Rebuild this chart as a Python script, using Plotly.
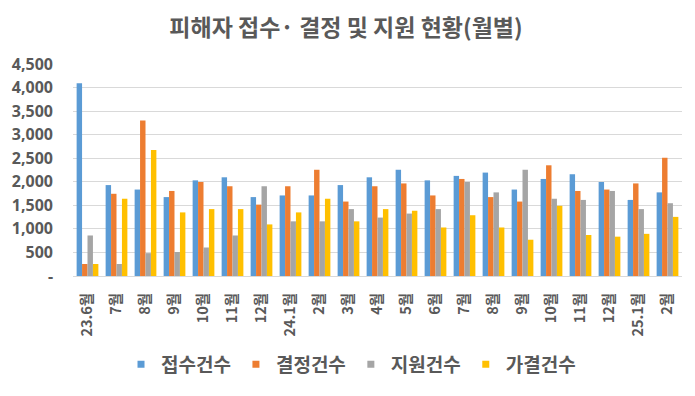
import plotly.graph_objects as go

categories = ["23.6월", "7월", "8월", "9월", "10월", "11월", "12월", "24.1월", "2월", "3월", "4월",
              "5월", "6월", "7월", "8월", "9월", "10월", "11월", "12월", "25.1월", "2월"]
cat_ids = [f"c{i}" for i in range(len(categories))]

received = [4090, 1930, 1835, 1675, 2030, 2095, 1675, 1710, 1710, 1930, 2095,
            2255, 2030, 2125, 2195, 1835, 2060, 2160, 1995, 1615, 1775]
decided = [255, 1745, 3300, 1805, 1995, 1905, 1515, 1905, 2255, 1580, 1905,
           1965, 1710, 2060, 1675, 1580, 2350, 1805, 1835, 1965, 2510]
supported = [860, 255, 485, 510, 605, 860, 1905, 1160, 1160, 1420, 1240,
             1325, 1420, 1995, 1775, 2255, 1640, 1615, 1805, 1420, 1545]
provisional = [255, 1640, 2675, 1350, 1420, 1420, 1095, 1350, 1640, 1160, 1420,
               1385, 1030, 1290, 1030, 770, 1490, 870, 835, 895, 1255]

series_names = ["접수건수", "결정건수", "지원건수", "가결건수"]
series_values = [received, decided, supported, provisional]
series_colors = ["#5B9BD5", "#ED7D31", "#A5A5A5", "#FFC000"]

y_tickvals = [0, 500, 1000, 1500, 2000, 2500, 3000, 3500, 4000, 4500]
y_ticktext = ["-", "500", "1,000", "1,500", "2,000", "2,500", "3,000", "3,500", "4,000", "4,500"]

fig = go.Figure()
for name, vals, col in zip(series_names, series_values, series_colors):
    fig.add_trace(go.Bar(x=cat_ids, y=vals, name=name, marker_color=col,
                         marker_line_width=0, showlegend=False, legendgroup=name))
# small square legend keys
for name, col in zip(series_names, series_colors):
    fig.add_trace(go.Scatter(x=[None], y=[None], mode="markers", name=name,
                             legendgroup=name,
                             marker=dict(symbol="square", size=7, color=col)))

# page body has an 8px default margin, so the figure is laid out 8px smaller
fig.update_layout(
    width=687, height=388,
    margin=dict(l=65, r=13, t=56, b=114),
    paper_bgcolor="white", plot_bgcolor="white",
    barmode="group", bargap=0.25, bargroupgap=0,
    font=dict(family="Noto Sans CJK KR", color="#595959"),
    title=dict(text="피해자 접수· 결정 및 지원 현황(월별)", x=0.492, xanchor="center",
               y=0.949, yanchor="middle",
               font=dict(size=23, color="#595959", family="Noto Sans CJK KR", weight="bold")),
    showlegend=True,
    legend=dict(orientation="h", x=0.4565, xanchor="center",
                y=-0.417, yanchor="middle",
                font=dict(size=19, color="#595959", family="Noto Sans CJK KR", weight="bold"),
                itemwidth=30, traceorder="normal"),
    xaxis=dict(tickmode="array", tickvals=cat_ids, ticktext=categories, tickangle=-90,
               showline=True, linecolor="#D9D9D9", linewidth=1, showgrid=False,
               automargin=False, ticklabelstandoff=10,
               tickfont=dict(size=14.5, color="#595959", family="Noto Sans CJK KR", weight="bold"),
               ticks=""),
    yaxis=dict(range=[0, 4500], tickmode="array", tickvals=y_tickvals, ticktext=y_ticktext,
               showgrid=True, gridcolor="#D9D9D9", gridwidth=1, zeroline=False,
               showline=False, ticks="", ticklabelstandoff=19, automargin=False,
               tickfont=dict(size=16, color="#595959", family="Noto Sans", weight="bold")),
)

fig.write_html("out.html")
